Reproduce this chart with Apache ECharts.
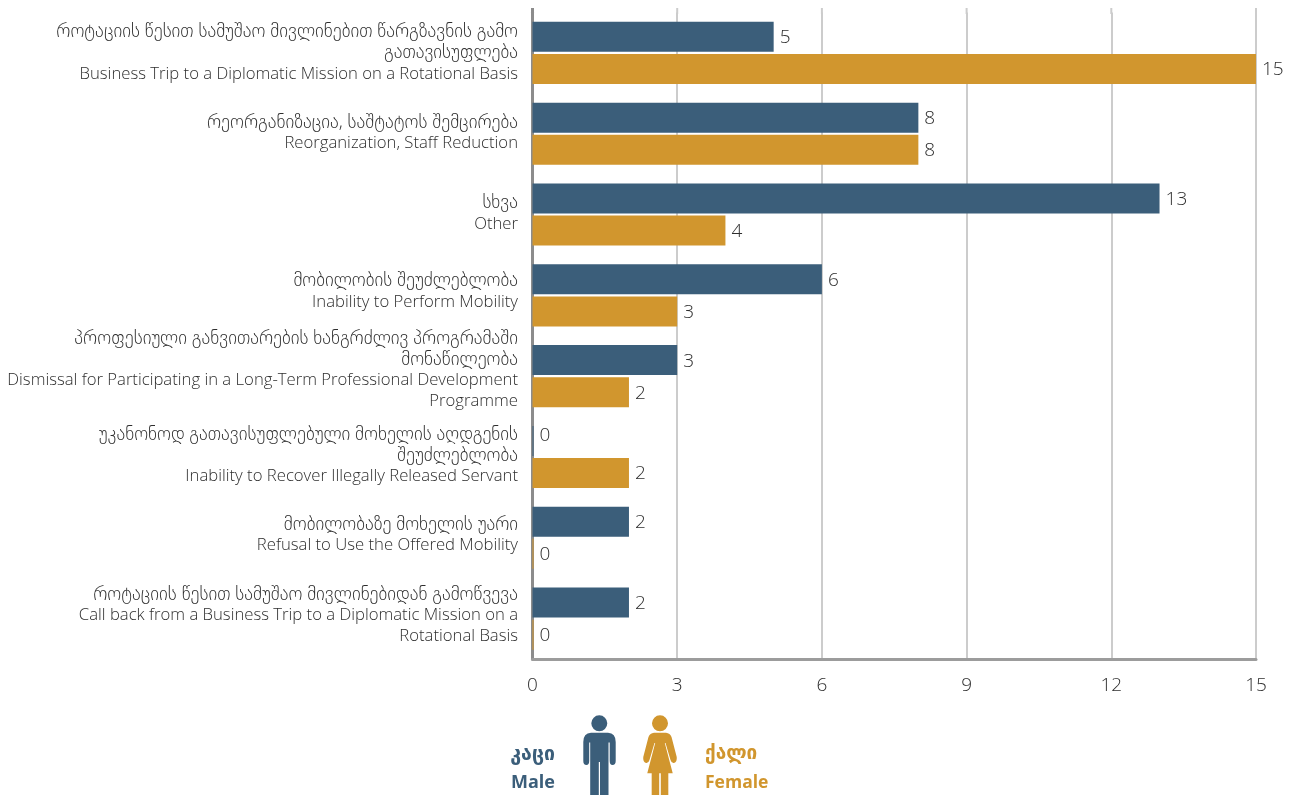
<!DOCTYPE html>
<html><head><meta charset="utf-8">
<style>html,body{margin:0;padding:0;background:#fff}#c{width:1294px;height:795px}</style>
<script src="https://cdn.jsdelivr.net/npm/echarts@6/dist/echarts.min.js"></script>
</head><body><div id="c"></div>
<script>
const categoryLines = [
  ['როტაციის წესით სამუშაო მივლინებით წარგზავნის გამო','გათავისუფლება','Business Trip to a Diplomatic Mission on a Rotational Basis'],
  ['რეორგანიზაცია, საშტატოს შემცირება','Reorganization, Staff Reduction'],
  ['სხვა','Other'],
  ['მობილობის შეუძლებლობა','Inability to Perform Mobility'],
  ['პროფესიული განვითარების ხანგრძლივ პროგრამაში','მონაწილეობა','Dismissal for Participating in a Long-Term Professional Development','Programme'],
  ['უკანონოდ გათავისუფლებული მოხელის აღდგენის','შეუძლებლობა','Inability to Recover Illegally Released Servant'],
  ['მობილობაზე მოხელის უარი','Refusal to Use the Offered Mobility'],
  ['როტაციის წესით სამუშაო მივლინებიდან გამოწვევა','Call back from a Business Trip to a Diplomatic Mission on a','Rotational Basis']
];
const maleValues = [5,8,13,6,3,0,2,2];
const femaleValues = [15,8,4,3,2,2,0,0];
const xTicks = {min:0,max:15,interval:3};
const maleName = ['კაცი','Male'];
const femaleName = ['ქალი','Female'];

const BLUE='#3b5e7a', GOLD='#d1962e', TXT='#2e2e2e';
const FONT='"Open Sans","DejaVu Sans",sans-serif';
const labelLift=[0,1,1,4,6,1.5,3,3];
const isGeo = s => /[\u10A0-\u10FF]/.test(s);
const fmt = lines => lines.map(l => (isGeo(l)?'{g|':'{e|')+l+'}').join('\n');
const categories = categoryLines.map((l,i)=>({value:l.join('\n'),textStyle:{padding:[0,0,labelLift[i]*2,0]}}));

const chart = echarts.init(document.getElementById('c'),null,{renderer:'canvas'});
const MAN='M607.3 723.3A8 8 0 1 1 591.3 723.3A8 8 0 1 1 607.3 723.3ZM591 732.7L608 732.7Q615.7 733 615.7 742L615.7 761Q615.7 765 612.5 765Q609.7 765 609.7 761L609.7 742.5L608.5 742.5L608.5 795L600 795L600 762L598.8 762L598.8 795L590.2 795L590.2 742.5L589.2 742.5L589.2 761Q589.2 765 586.4 765Q583.3 765 583.3 761L583.3 742Q583.3 733 591 732.7Z';
const WOMAN='M668 723.3A8 8 0 1 1 652 723.3A8 8 0 1 1 668 723.3ZM654 732.7L666 732.7Q670 733 671.5 737L676.7 757Q677.2 762 674 763Q671.5 763.5 670.5 760L665.5 743L664.8 743L672.7 773.3L668.3 773.3L668.3 795L660.8 795L660.8 773.3L659.2 773.3L659.2 795L651.7 795L651.7 773.3L647.3 773.3L655.2 743L654.5 743L649.5 760Q648.5 763.5 646 763Q642.8 762 643.3 757L648.5 737Q650 733 654 732.7Z';
const legendText=(t,x,y,c,align,size)=>({type:'text',x,y,style:{text:t,fill:c,font:'bold '+size+'px '+FONT,textAlign:align,textVerticalAlign:'middle'}});
const legendGraphics=[
    legendText(maleName[0],555,754,BLUE,'right',19.5),
    legendText(maleName[1],555,783,BLUE,'right',18),
    legendText(femaleName[0],705,754,GOLD,'left',19),
    legendText(femaleName[1],705,783,GOLD,'left',17.5)
];
const figure=(path,x,w,color)=>({type:'custom',coordinateSystem:'none',silent:true,data:[0],clip:false,
  renderItem:()=>({type:'path',shape:{pathData:path,layout:'cover',x,y:715.3,width:w,height:79.7},style:{fill:color}})});
const valueLabel={show:true,position:'right',distance:6,offset:[0,1],color:TXT,fontFamily:FONT,fontWeight:300,fontSize:19};
const lifted=(vals,i,dy)=>vals.map((v,k)=>k===i?{value:v,label:{offset:[0,dy]}}:v);

chart.setOption({
  animation:false,
  backgroundColor:'#fff',
  grid:{left:532.5,right:38,top:12.5,bottom:136,containLabel:false},
  xAxis:{type:'value',min:xTicks.min,max:xTicks.max,interval:xTicks.interval,
    axisLine:{show:true,lineStyle:{color:'#9c9c9c',width:3}},axisTick:{show:false},
    axisLabel:{color:TXT,fontFamily:FONT,fontWeight:300,fontSize:19,margin:17},
    splitLine:{show:true,lineStyle:{color:'#cccccc',width:2}}},
  yAxis:{type:'category',inverse:true,data:categories,
    axisLine:{show:true,lineStyle:{color:'#8c8c8c',width:3}},axisTick:{show:false},
    axisLabel:{interval:0,margin:14.5,align:'right',
      formatter:(v,i)=>fmt(categoryLines[i]),
      rich:{g:{fontFamily:FONT,fontWeight:300,fontSize:18.7,lineHeight:21,color:TXT},e:{fontFamily:FONT,fontWeight:300,fontSize:16.7,lineHeight:21,color:TXT}}}},
  series:[
    {name:maleName[1],type:'bar',data:lifted(maleValues,5,-5),barWidth:30,barGap:'7%',barMinHeight:1,itemStyle:{color:BLUE},label:valueLabel},
    {name:femaleName[1],type:'bar',data:femaleValues,barWidth:30,barMinHeight:1,itemStyle:{color:GOLD},label:valueLabel},
    figure(MAN,583.3,32.4,BLUE),
    figure(WOMAN,643.2,33.6,GOLD)
  ]
});
// the axes rise a few pixels above the plot area
const ext=[];
for(let v=xTicks.min;v<=xTicks.max;v+=xTicks.interval){
  const x=chart.convertToPixel({xAxisIndex:0},v);
  ext.push({type:'line',z:-1,shape:{x1:x,y1:8,x2:x,y2:14},style:{stroke:v===0?'#8c8c8c':'#cccccc',lineWidth:v===0?3:2}});
}
chart.setOption({graphic:legendGraphics.concat(ext)});
</script></body></html>
